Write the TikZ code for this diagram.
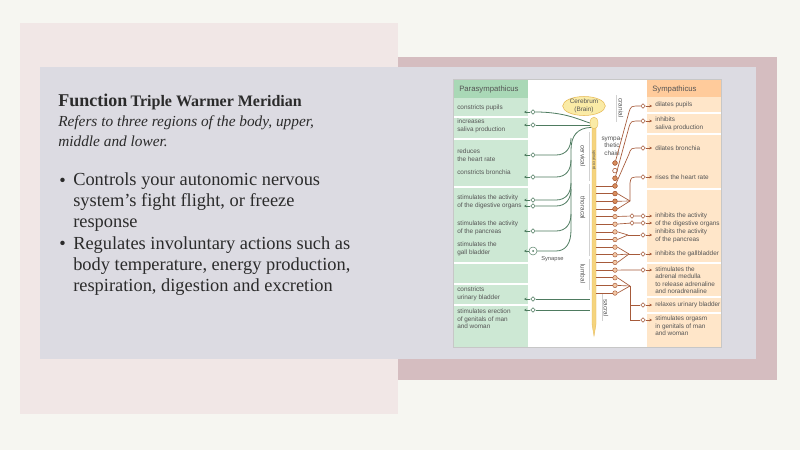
\documentclass[tikz,border=0pt]{standalone}
\usepackage{fontspec}
\setmainfont{Liberation Serif}
\newfontfamily\diagfont{Liberation Sans}
\usetikzlibrary{arrows.meta}
\usetikzlibrary{shapes.geometric}

\definecolor{bgcol}{HTML}{F6F6F1}
\definecolor{pinkcol}{HTML}{F1E7E6}
\definecolor{mauvecol}{HTML}{D5BDC0}
\definecolor{slatecol}{HTML}{DCDBE2}
\definecolor{greencol}{HTML}{CDE8D4}
\definecolor{greenhead}{HTML}{A9D8B6}
\definecolor{orangecol}{HTML}{FFE6C9}
\definecolor{orangehead}{HTML}{FFCB9B}
\definecolor{pline}{HTML}{4E7B60}
\definecolor{sline}{HTML}{A65A3A}
\definecolor{symfill}{HTML}{F2C7A4}
\definecolor{symdark}{HTML}{D88E5C}
\definecolor{cordcol}{HTML}{F5D47E}
\definecolor{cordedge}{HTML}{E7B955}
\definecolor{braincol}{HTML}{FAEBA6}
\definecolor{diagtxt}{HTML}{555555}
\definecolor{slidetxt}{HTML}{2B2B2B}

\tikzset{
  titletxt/.style={anchor=base west, text=slidetxt, inner sep=0pt},
  bodytxt/.style={anchor=west, text=slidetxt, inner sep=0pt, align=left,
    font=\fontsize{13.8}{15.75}\selectfont},
  rowlbl/.style={anchor=west, text=diagtxt, inner sep=0pt, align=left,
    font=\diagfont\fontsize{4.8}{5.6}\selectfont},
  headlbl/.style={anchor=west, text=diagtxt, inner sep=0pt,
    font=\diagfont\fontsize{5.8}{6.5}\selectfont},
  regionlbl/.style={rotate=-90, text=diagtxt, inner sep=0pt,
    font=\diagfont\fontsize{4.8}{5.6}\selectfont},
  pdia/.style={diamond, draw=pline, fill=white, line width=0.35pt,
    inner sep=0pt, minimum size=3.6pt},
  sdia/.style={diamond, draw=sline, fill=white, line width=0.35pt,
    inner sep=0pt, minimum size=3.6pt},
  chaincirc/.style={circle, draw=sline, fill=symfill, line width=0.35pt,
    inner sep=0pt, minimum size=3.4pt},
  pnerve/.style={draw=pline, line width=0.6pt},
  snerve/.style={draw=sline, line width=0.5pt},
  regionbar/.style={draw=black!18, line width=0.4pt},
}

\begin{document}
\begin{tikzpicture}[x=0.75pt, y=-0.75pt]
    \useasboundingbox (0,0) rectangle (800,450);
    \fill[bgcol] (0,0) rectangle (800,450);
    \fill[pinkcol] (20,23) rectangle (398,414);
    \fill[mauvecol] (398,57) rectangle (777,380);
    \fill[slatecol] (40,67) rectangle (756,359);

    \node[titletxt] (title) at (58,106) {{\fontsize{13.5}{16}\selectfont\bfseries Function}
      {\fontsize{12}{14}\selectfont\bfseries Triple Warmer Meridian}};
    \node[bodytxt, font=\fontsize{11.5}{15}\selectfont\itshape] (intro) at (58,131)
      {Refers to three regions of the body, upper,\\middle and lower.};
    \node[bodytxt] (dot1) at (59,182) {\textbullet};
    \node[bodytxt] (item1) at (73,202)
      {Controls your autonomic nervous\\system's fight flight, or freeze\\response};
    \node[bodytxt] (dot2) at (59,245) {\textbullet};
    \node[bodytxt] (item2) at (73,266)
      {Regulates involuntary actions such as\\body temperature, energy production,\\respiration, digestion and excretion};

    \fill[white] (453,79) rectangle (721,347);
    \fill[greencol] (453,79) rectangle (528,347);
    \fill[greenhead] (453,79) rectangle (528,98);
    \fill[orangecol] (647,79) rectangle (721,347);
    \fill[orangehead] (647,79) rectangle (721,97);
    \foreach \y in {117,139,187,263,284,305}
      \draw[white, line width=1.1pt] (453,\y) -- (528,\y);
    \foreach \y in {113,134,189,263,297,313}
      \draw[white, line width=1.1pt] (647,\y) -- (721,\y);
    \draw[black!22, line width=0.6pt] (453,79) rectangle (721,347);

    \node[headlbl] (para) at (459,89) {Parasympathicus};
    \node[headlbl] (symp) at (652,89) {Sympathicus};

    \node[rowlbl] (lpup) at (457,108) {constricts pupils};
    \node[rowlbl] (lsal) at (457,126) {increases\\saliva production};
    \node[rowlbl] (lhrt) at (457,155) {reduces\\the heart rate};
    \node[rowlbl] (lbro) at (457,172) {constricts bronchia};
    \node[rowlbl] (ldig) at (457,202) {stimulates the activity\\of the digestive organs};
    \node[rowlbl] (lpan) at (457,228) {stimulates the activity\\of the pancreas};
    \node[rowlbl] (lgal) at (457,249) {stimulates the\\gall bladder};
    \node[rowlbl] (luri) at (457,294) {constricts\\urinary bladder};
    \node[rowlbl] (lere) at (457,319) {stimulates erection\\of genitals of man\\and woman};

    \node[rowlbl] (rpup) at (655,105) {dilates pupils};
    \node[rowlbl] (rsal) at (655,124) {inhibits\\saliva production};
    \node[rowlbl] (rbro) at (655,148) {dilates bronchia};
    \node[rowlbl] (rhrt) at (655,177) {rises the heart rate};
    \node[rowlbl] (rdig) at (655,220) {inhibits the activity\\of the digestive organs};
    \node[rowlbl] (rpan) at (655,236) {inhibits the activity\\of the pancreas};
    \node[rowlbl] (rgal) at (655,254) {inhibits the gallbladder};
    \node[rowlbl] (radr) at (655,280) {stimulates the\\adrenal medulla\\to release adrenaline\\and noradrenaline};
    \node[rowlbl] (ruri) at (655,305) {relaxes urinary bladder};
    \node[rowlbl] (rorg) at (655,326) {stimulates orgasm\\in genitals of man\\and woman};

    \draw[regionbar] (616,95) -- (616,122);
    \draw[regionbar] (589,132) -- (589,181);
    \draw[regionbar] (589,184) -- (589,256);
    \draw[regionbar] (589,259) -- (589,290);
    \draw[regionbar] (602,293) -- (602,321);
    \node[regionlbl] (cranial) at (621,108) {cranial};
    \node[regionlbl] (cervical) at (583,156) {cervical};
    \node[regionlbl] (thoracal) at (583,208) {thoracal};
    \node[regionlbl] (lumbal) at (583,274) {lumbal};
    \node[regionlbl] (sacral) at (606,308) {sacral};

    \node[ellipse, draw=cordedge, fill=braincol, line width=0.4pt, inner sep=0pt,
      minimum width=32pt, minimum height=14pt, align=center, text=diagtxt,
      font=\diagfont\fontsize{4.8}{5.6}\selectfont] (brain) at (584,106) {Cerebrum\\(Brain)};
    \fill[cordcol, draw=cordedge, line width=0.3pt] (592,122) -- (596,122) -- (596,324)
      -- (594,336) -- (592,324) -- cycle;
    \node[ellipse, fill=braincol, draw=cordedge, line width=0.3pt, inner sep=0pt,
      minimum width=6pt, minimum height=9pt] (stem) at (594,123) {};
    \node[regionlbl, font=\diagfont\fontsize{3}{3.5}\selectfont] (cord) at (594,160) {spinal cord};
    \node[rowlbl, anchor=center, align=center] (chainlbl) at (612,146) {sympa-\\thetic\\chain};

    \foreach \n/\y in {1/112,2/125,3/155,4/177,5/200,6/206,7/231,9/299,10/310} {
      \node[pdia] (pd\n) at (533,\y) {};
      \coordinate (pe\n) at (524,\y);
      \draw[pnerve, -{Stealth[length=2pt, width=2pt]}] (pd\n) -- (pe\n);
    }
    \node[circle, draw=pline, fill=white, line width=0.35pt, inner sep=0pt,
      minimum size=6pt] (syn) at (533,251) {};
    \fill[pline] (syn) circle (1);
    \coordinate (pe8) at (524,251);
    \draw[pnerve, -{Stealth[length=2pt, width=2pt]}] (syn) -- (pe8);
    \node[rowlbl, font=\diagfont\fontsize{4.3}{5}\selectfont] (synlbl) at (541,259) {Synapse};

    \coordinate (vagus) at (571,230);
    \draw[pnerve] (pd1.east) .. controls (565,112) and (580,120) .. (stem.west);
    \draw[pnerve] (pd2.east) -- (pd2.east -| stem.west);
    \draw[pnerve] (stem.south west) .. controls (577,128) and (571,136) .. (571,150) -- (vagus);
    \foreach \n/\y in {3/155,4/177,5/200,6/206,7/231}
      \draw[pnerve] (pd\n.east) -- (556,\y) .. controls (566,\y) and (571,\y-7) .. (571,\y-17);
    \draw[pnerve] (syn.east) -- (556,251) .. controls (566,251) and (571,243) .. (vagus);
    \draw[pnerve] (pd9.east) -- (pd9.east -| stem.west);
    \draw[pnerve] (pd10.east) -- (pd10.east -| stem.west);

    \foreach \i in {1,...,18} {
      \node[chaincirc] (c\i) at (615,{163+(\i-1)*7.65}) {};
      \coordinate (s\i) at (596,{163+(\i-1)*7.65});
    }
    \foreach \i in {1,3,4,5,6,7}
      \node[chaincirc, fill=symdark] (c\i) at (615,{163+(\i-1)*7.65}) {};
    \node[chaincirc, fill=white] (c2) at (615,170.65) {};
    \foreach \i in {4,...,18}
      \draw[snerve] (s\i) -- (c\i);

    \foreach \d/\y in {pup/106,sal/121,bro/148,hrt/177,dig1/216,dig2/223,pan/235,gal/254,adr/270,uri/305,org/320} {
      \node[sdia] (d\d) at (643,\y) {};
      \coordinate (e\d) at (652,\y);
      \draw[snerve, -{Stealth[length=2pt, width=2pt]}] (d\d) -- (e\d);
    }
    \node[sdia] (mdig1) at (632,216) {};
    \node[sdia] (mdig2) at (632,223) {};
    \coordinate (k1) at (630,201);
    \coordinate (k2) at (628,235);
    \coordinate (k3) at (629,254);
    \coordinate (k4) at (630,286);

    \draw[snerve] (c1) -- (629,112) .. controls (631,106) .. (dpup.west);
    \draw[snerve] (c3) -- (629,127) .. controls (631,121) .. (dsal.west);
    \draw[snerve] (c4) -- (629,154) .. controls (631,148) .. (dbro.west);
    \draw[snerve] (c5.east) -- (k1);
    \draw[snerve] (c6.east) -- (k1);
    \draw[snerve] (c7.east) -- (k1);
    \draw[snerve] (k1) -- (630,183) .. controls (631,177) .. (dhrt.west);
    \draw[snerve] (c8) -- (mdig1) -- (ddig1);
    \draw[snerve] (c9) -- (mdig2) -- (ddig2);
    \draw[snerve] (c10.east) -- (k2);
    \draw[snerve] (c11.east) -- (k2);
    \draw[snerve] (k2) -- (dpan);
    \draw[snerve] (c12.east) -- (k3);
    \draw[snerve] (c13.east) -- (k3);
    \draw[snerve] (c14.east) -- (k3);
    \draw[snerve] (k3) -- (dgal);
    \draw[snerve] (c15) -- (dadr);
    \draw[snerve] (c16.east) -- (k4);
    \draw[snerve] (c17.east) -- (k4);
    \draw[snerve] (c18.east) -- (k4);
    \draw[snerve] (k4) |- (duri);
    \draw[snerve] (k4) |- (dorg);
  \end{tikzpicture}
\end{document}
